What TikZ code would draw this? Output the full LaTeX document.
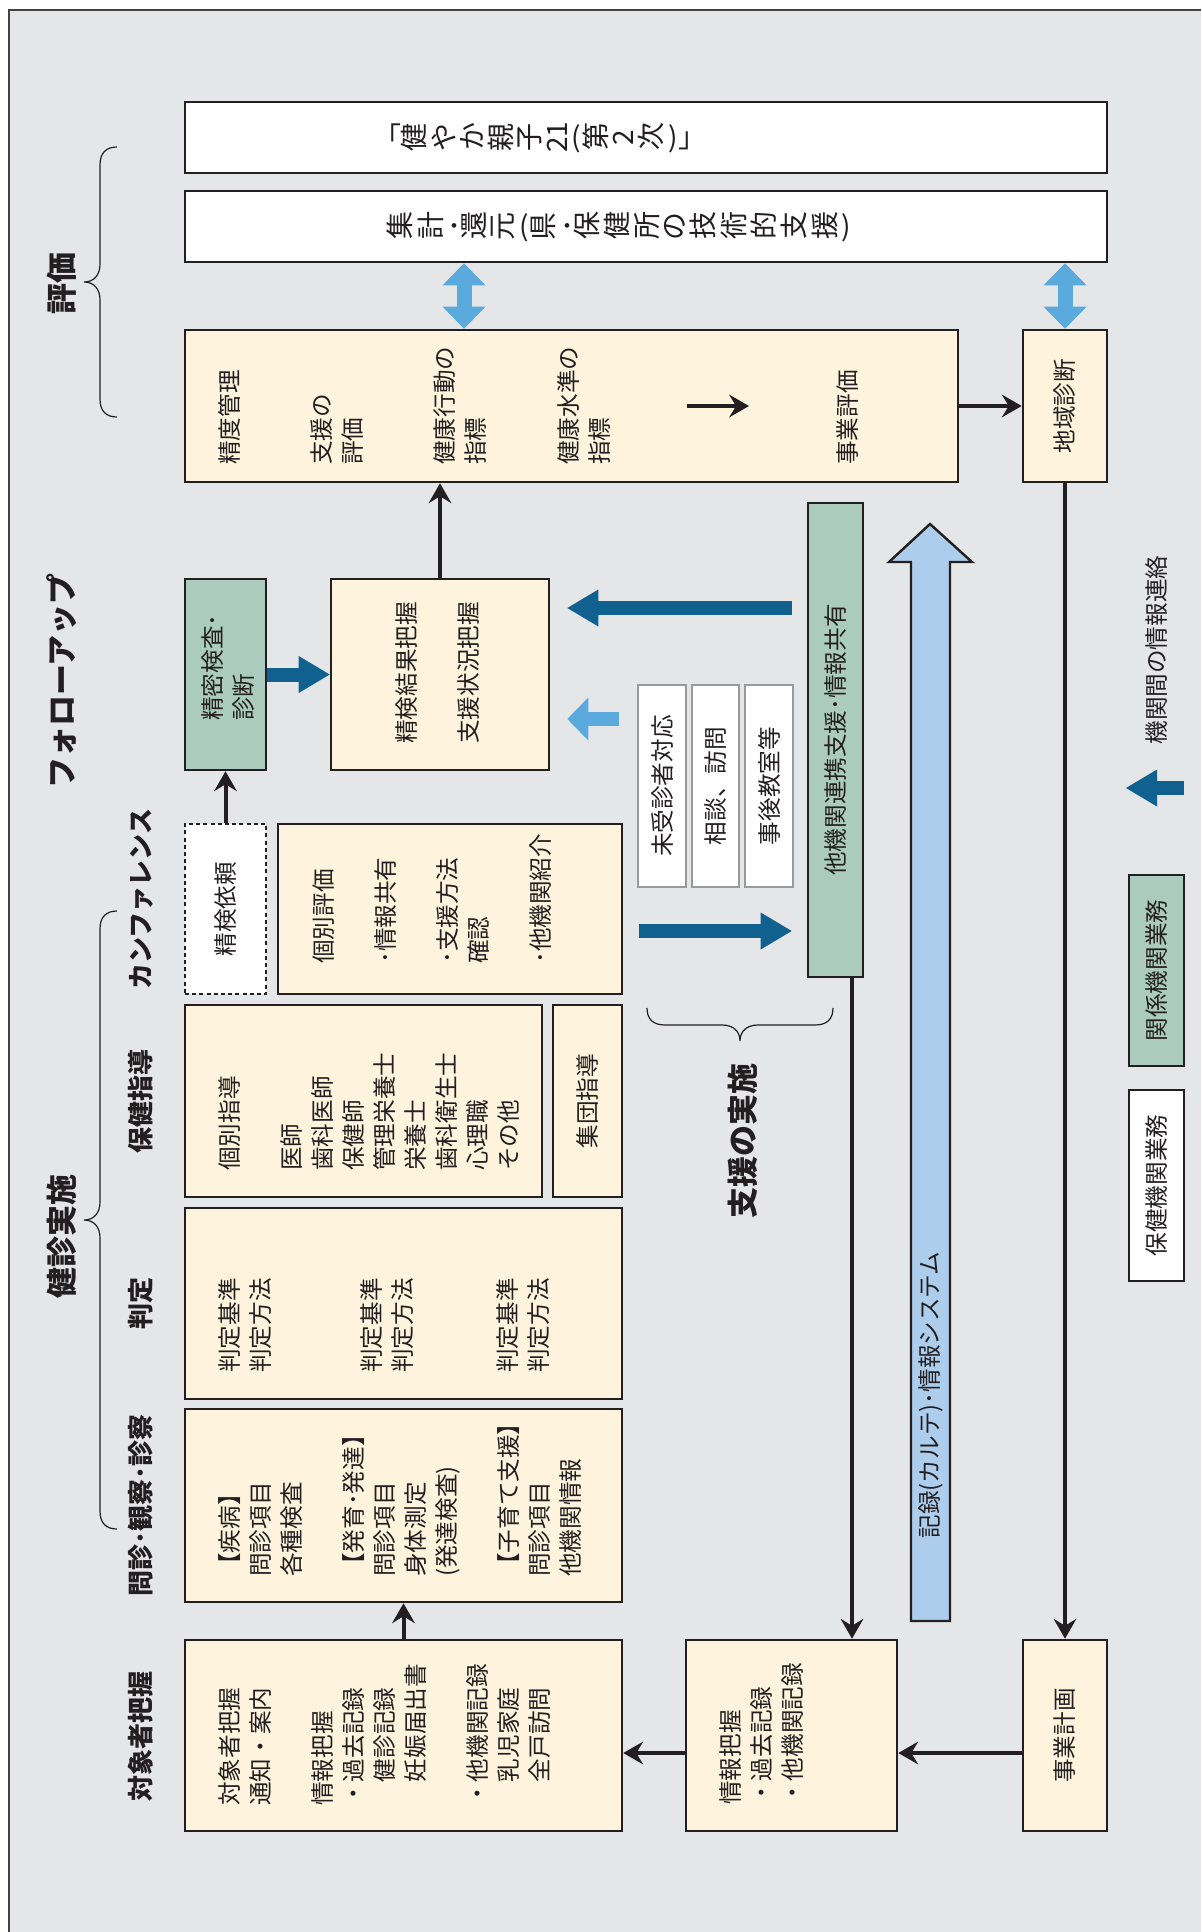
\documentclass[tikz,border=0pt]{standalone}
\usepackage{fontspec}
\usepackage{graphicx}
\usetikzlibrary{arrows.meta,fit}
\newfontfamily\jp{Noto Sans CJK JP}

\definecolor{bggray}{HTML}{E5E6E8}
\definecolor{cream}{HTML}{FEF3DD}
\definecolor{sage}{HTML}{ABCBBF}
\definecolor{skyfill}{HTML}{ADCDEC}
\definecolor{skyarrow}{HTML}{5BAADE}
\definecolor{navyarrow}{HTML}{10618F}
\definecolor{inkline}{HTML}{231F20}

% one glyph turned a quarter, for the upright column texts
\newcommand\rc[1]{\rotatebox[origin=c]{90}{#1}\hspace{2.3pt}}

\tikzset{every picture/.style={line width=1.3pt}}
\tikzset{
  box/.style={draw=inkline,fill=cream,line width=1.3pt,inner sep=0pt},
  wbox/.style={box,fill=white},
  gbox/.style={box,fill=sage},
  dbox/.style={box,fill=white,dash pattern=on 2pt off 1.6pt},
  tbox/.style={draw=gray!80,fill=white,line width=0.6pt,inner sep=0pt},
  lbl/.style={font=\jp\fontsize{11.8}{15.5}\selectfont,text=inkline,rotate=90,inner sep=0pt,align=left,anchor=north west},
  clbl/.style={font=\jp\fontsize{11.8}{15.5}\selectfont,text=inkline,rotate=90,inner sep=0pt,align=center},
  headA/.style={font=\jp\bfseries\fontsize{15.5}{18}\selectfont,text=inkline,rotate=90,inner sep=0pt},
  headB/.style={font=\jp\bfseries\fontsize{13}{16}\selectfont,text=inkline,rotate=90,inner sep=0pt},
  vlbl/.style={font=\jp\fontsize{14}{16}\selectfont,text=inkline,inner sep=0pt,anchor=west},
  conn/.style={draw=inkline,line width=2pt,-{Stealth[length=10pt,width=11.5pt,inset=3.5pt,line width=0pt]}},
  fatarrow/.style={draw=navyarrow,line width=7pt,-{Triangle[length=15.5pt,width=18.5pt,line width=0pt]}},
  fatlight/.style={draw=skyarrow,line width=7pt,-{Triangle[length=10.5pt,width=21.5pt,line width=0pt]}},
  twoway/.style={draw=skyarrow,line width=7.5pt,{Triangle[length=11pt,width=21.5pt,line width=0pt]}-{Triangle[length=11pt,width=21.5pt,line width=0pt]}},
  bracel/.style={draw=inkline,line width=0.6pt},
}

\begin{document}
\begin{tikzpicture}[x=0.5pt,y=0.5pt,yscale=-1,xscale=1]
\useasboundingbox (0,0) rectangle (1201,1932);
\fill[white] (0,0) rectangle (1201,1932);
\fill[bggray] (9,10) rectangle (1201,1932);
\draw[draw=inkline!85,line width=1pt] (1201,10) -- (9,10) -- (9,1932);

% Shape: Rectangle
\node[wbox, fit={(185,102) (1107,173)}] (kenyaka) {};
\node[wbox, fit={(185,191) (1107,262)}] (shukei) {};
\node[box, fit={(185,330) (958,482)}] (hyoka) {};
\node[box, fit={(1023,330) (1107,482)}] (chiiki) {};
\node[gbox, fit={(185,579) (266,770)}] (seimitsu) {};
\node[box, fit={(331,579) (549,770)}] (seiken) {};
\node[dbox, fit={(185,824) (266,994)}] (irai) {};
\node[box, fit={(278,824) (622,994)}] (kobetsu) {};
\node[tbox, fit={(638,685) (686,887)}] (mijushin) {};
\node[tbox, fit={(692,685) (739,887)}] (sodan) {};
\node[tbox, fit={(745,685) (793,887)}] (jigo) {};
\node[gbox, fit={(808,503) (863,977)}] (tahikan) {};
\node[box, fit={(185,1005) (542,1197)}] (shido) {};
\node[box, fit={(553,1005) (622,1197)}] (shudan) {};
\node[box, fit={(185,1208) (622,1399)}] (hantei) {};
\node[box, fit={(185,1409) (622,1602)}] (monshin) {};
\node[box, fit={(185,1640) (622,1831)}] (taisho) {};
\node[box, fit={(686,1640) (897,1831)}] (jouhou) {};
\node[box, fit={(1023,1640) (1107,1831)}] (keikaku) {};
\node[gbox, fit={(1129,875) (1184,1066)}] (kankei) {};
\node[wbox, fit={(1129,1090) (1184,1281)}] (hoken) {};

% Shape: big arrow (records)
\draw[draw=inkline,line width=1.2pt,fill=skyfill,line join=miter] (911,1621) -- (911,562) -- (889,562) -- (930,524) -- (972,562) -- (950,562) -- (950,1621) -- cycle;

% Braces
\draw[bracel] (117,147) .. controls (106,147) and (100,153) .. (100,165) -- (100,264) .. controls (100,275) and (94,282) .. (84,282) .. controls (94,282) and (100,289) .. (100,300) -- (100,399) .. controls (100,411) and (106,417) .. (117,417);
\draw[bracel] (117,911) .. controls (106,911) and (100,917) .. (100,929) -- (100,1202) .. controls (100,1213) and (94,1220) .. (84,1220) .. controls (94,1220) and (100,1227) .. (100,1238) -- (100,1511) .. controls (100,1523) and (106,1529) .. (117,1529);
\draw[bracel] (647,1008) .. controls (647,1019) and (653,1025) .. (665,1025) -- (722,1025) .. controls (733,1025) and (740,1031) .. (740,1041) .. controls (740,1031) and (747,1025) .. (758,1025) -- (815,1025) .. controls (827,1025) and (833,1019) .. (833,1008);

% Helper coordinates
\coordinate (xtj) at (852,0);
\coordinate (ybot) at (0,1753);
\coordinate (yup) at (0,608);
\coordinate (ylt) at (0,719);
\coordinate (yrt) at (0,931);
\coordinate (xdb) at (464,0);
\coordinate (lgA) at (1184,788);
\coordinate (lgB) at (1126,788);
\coordinate (inA) at (687,406);
\coordinate (inB) at (749,406);

%Straight Lines
\draw[conn] (taisho) -- (monshin);
\draw[conn] (irai) -- (seimitsu);
\draw[conn] (seiken.north) -- (seiken.north |- hyoka.south);
\draw[conn] (hyoka) -- (chiiki);
\draw[conn] (chiiki) -- (keikaku);
\draw[conn] (tahikan.south -| xtj) -- (jouhou.north -| xtj);
\draw[conn] (keikaku.west |- ybot) -- (jouhou.east |- ybot);
\draw[conn] (jouhou.west |- ybot) -- (taisho.east |- ybot);
\draw[conn] (inA) -- (inB);

% Block arrows
\draw[fatarrow] (seimitsu) -- (seiken);
\draw[fatarrow, shorten <=7.5pt, shorten >=8.5pt] (tahikan.west |- yup) -- (seiken.east |- yup);
\draw[fatlight, shorten <=9pt, shorten >=8.5pt] (mijushin.west |- ylt) -- (seiken.east |- ylt);
\draw[fatarrow, shorten <=8pt, shorten >=7.5pt] (kobetsu.east |- yrt) -- (tahikan.west |- yrt);
\draw[twoway] (shukei.south -| xdb) -- (hyoka.north -| xdb);
\draw[twoway] (shukei.south -| chiiki) -- (chiiki.north);
\draw[fatarrow] (lgA) -- (lgB);

% Text Node
\node[headA] (hHyoka) at (62,283) {評価};
\node[headA] (hFollow) at (62,681) {フォローアップ};
\node[headA] (hKenshin) at (62,1236) {健診実施};
\node[headA] (hShien) at (743,1141) {支援の実施};
\node[headB] (hConf) at (141,899) {カンファレンス};
\node[headB] (hShido) at (141,1101) {保健指導};
\node[headB] (hHantei) at (141,1303) {判定};
\node[headB] (hMonshin) at (141,1505) {問診･観察･診察};
\node[headB] (hTaisho) at (141,1736) {対象者把握};

% Text Node
\node[vlbl] (tKenyaka) at (386,137.5) {｢\rc{健}\rc{や}\rc{か}\rc{親}\rc{子}\rc{21}(\hspace{1pt}\rc{第}\rc{2}\rc{次})｣};
\node[vlbl] (tShukei) at (386,226.5) {\rc{集}\rc{計}･\rc{還}\rc{元}(\hspace{1pt}\rc{県}･\rc{保}\rc{健}\rc{所}\rc{の}\rc{技}\rc{術}\rc{的}\rc{支}\rc{援})};

% Text Node
\node[lbl] (tSeido) at (217,466) {精度管理};
\node[lbl] (tShienHyo) at (309,466) {支援の\\評価};
\node[lbl] (tKodo) at (432,466) {健康行動の\\指標};
\node[lbl] (tSuijun) at (556,466) {健康水準の\\指標};
\node[lbl] (tJigyoHyo) at (835,466) {事業評価};
\node[clbl] (tChiiki) at (chiiki.center) {地域診断};
\node[lbl] (tSeimitsu) at (200,722) {精密検査･\\診断};
\node[lbl] (tSeiken) at (394,745) {精検結果把握\\[15.5pt]支援状況把握};
\node[clbl] (tIrai) at (irai.center) {精検依頼};
\node[lbl] (tKobetsu) at (311,965) {個別評価\\[15.5pt]･情報共有\\[15.5pt]･支援方法\\確認\\[15.5pt]･他機関紹介};
\node[clbl] (tMiju) at (mijushin.center) {未受診者対応};
\node[clbl] (tSodan) at (sodan.center) {相談、訪問};
\node[clbl] (tJigo) at (jigo.center) {事後教室等};
\node[clbl] (tTahikan) at (tahikan.center) {他機関連携支援･情報共有};
\node[lbl] (tShido) at (217,1172) {個別指導\\[15.5pt]医師\\歯科医師\\保健師\\管理栄養士\\栄養士\\歯科衛生士\\心理職\\その他};
\node[clbl] (tShudan) at (shudan.center) {集団指導};
\node[lbl] (tHanteiA) at (217,1374) {判定基準\\判定方法};
\node[lbl] (tHanteiB) at (359,1374) {判定基準\\判定方法};
\node[lbl] (tHanteiC) at (495,1374) {判定基準\\判定方法};
\node[lbl] (tMonshin) at (217,1578) {【疾病】\\問診項目\\各種検査\\[15.5pt]【発育･発達】\\問診項目\\身体測定\\(発達検査)\\[15.5pt]【子育て支援】\\問診項目\\他機関情報};
\node[lbl] (tTaisho) at (217,1807) {対象者把握\\通知・案内\\[15.5pt]情報把握\\・過去記録\\　健診記録\\　妊娠届出書\\[15.5pt]・他機関記録\\　乳児家庭\\　全戸訪問};
\node[lbl] (tJouhou) at (718,1806) {情報把握\\・過去記録\\・他機関記録};
\node[clbl] (tKeikaku) at (keikaku.center) {事業計画};
\node[clbl] (tKiroku) at (930.5,1395) {記録(カルテ)･情報システム};

% Legend
\node[clbl] (tRenraku) at (1157,650) {機関間の情報連絡};
\node[clbl] (tKankei) at (kankei.center) {関係機関業務};
\node[clbl] (tHoken) at (hoken.center) {保健機関業務};

\end{tikzpicture}
\end{document}
